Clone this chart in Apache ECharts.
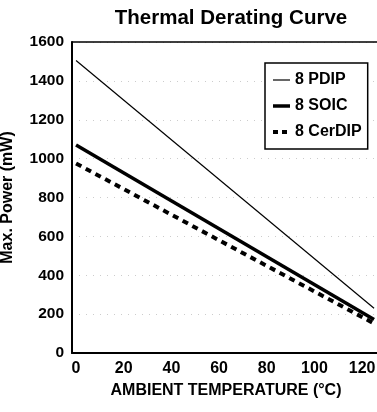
<!DOCTYPE html>
<html><head><meta charset="utf-8">
<script src="https://cdn.jsdelivr.net/npm/echarts@6/dist/echarts.min.js"></script>
<style>html,body{margin:0;padding:0;background:#fff}#c{width:377px;height:412px}</style>
</head><body><div id="c"></div>
<script>
const temps = [0, 125];
const pdip = [1505, 230];
const soic = [1070, 172];
const cerdip = [975, 152];
const xTicks = [0, 20, 40, 60, 80, 100, 120];
const names = ['8 PDIP', '8 SOIC', '8 CerDIP'];
const F = '"Liberation Sans", Arial, sans-serif';
const chart = echarts.init(document.getElementById('c'));
const pair = a => temps.map((t, i) => [t, a[i]]);
chart.setOption({
  animation: false,
  title: {text: 'Thermal Derating Curve', left: 226, top: 3, textAlign: 'center',
    textStyle: {fontFamily: F, fontWeight: 'bold', fontSize: 20.5, color: '#000'}},
  grid: {left: 72, top: 42, right: -3, bottom: 59, show: false,
    outerBoundsMode: 'none', containLabel: false},
  legend: {left: 265, top: 63, orient: 'vertical', itemGap: 10, itemWidth: 17, itemHeight: 14,
    padding: [9, 6, 9, 6], borderColor: '#000', borderWidth: 1.5, backgroundColor: '#fff',
    itemStyle: {opacity: 0, borderWidth: 0},
    textStyle: {fontFamily: F, fontWeight: 'bold', fontSize: 16, color: '#000'},
    data: [
      {name: names[0], lineStyle: {width: 1.2, color: '#000'}},
      {name: names[1], lineStyle: {width: 3.5, color: '#000'}},
      {name: names[2], lineStyle: {width: 4, color: '#000', type: [5, 4]}}
    ]},
  xAxis: [{type: 'value', min: -1.7, max: 127.5,
    name: 'AMBIENT TEMPERATURE (°C)', nameLocation: 'middle', nameGap: 30,
    nameTextStyle: {fontFamily: F, fontWeight: 'bold', fontSize: 16, color: '#000'},
    axisLine: {lineStyle: {color: '#000', width: 2}}, axisTick: {show: false},
    axisLabel: {customValues: xTicks, fontFamily: F, fontWeight: 'bold', fontSize: 16, color: '#000', margin: 8},
    splitLine: {show: false}},
    {type: 'value', position: 'top', min: -1.7, max: 127.5,
    axisLine: {show: true, lineStyle: {color: '#000', width: 1.5}}, axisTick: {show: false},
    axisLabel: {show: false}, splitLine: {show: false}}],
  yAxis: {type: 'value', min: 0, max: 1600, interval: 200,
    name: 'Max. Power (mW)', nameLocation: 'middle', nameGap: 56,
    nameTextStyle: {fontFamily: F, fontWeight: 'bold', fontSize: 16, color: '#000'},
    axisLine: {show: true, onZero: false, lineStyle: {color: '#000', width: 2}}, axisTick: {show: false},
    axisLabel: {formatter: v => String(v), fontFamily: F, fontWeight: 'bold', fontSize: 15.5, color: '#000', margin: 8},
    splitLine: {show: true, lineStyle: {color: '#ccc', type: [1, 6], width: 1}}},
  series: [
    {name: names[0], type: 'line', data: pair(pdip), symbol: 'none', lineStyle: {color: '#000', width: 1.2}, itemStyle: {color: '#000'}},
    {name: names[1], type: 'line', data: pair(soic), symbol: 'none', lineStyle: {color: '#000', width: 3.5}, itemStyle: {color: '#000'}},
    {name: names[2], type: 'line', data: pair(cerdip), symbol: 'none', lineStyle: {color: '#000', width: 4, type: [6, 5]}, itemStyle: {color: '#000'}}
  ]
});
</script></body></html>
